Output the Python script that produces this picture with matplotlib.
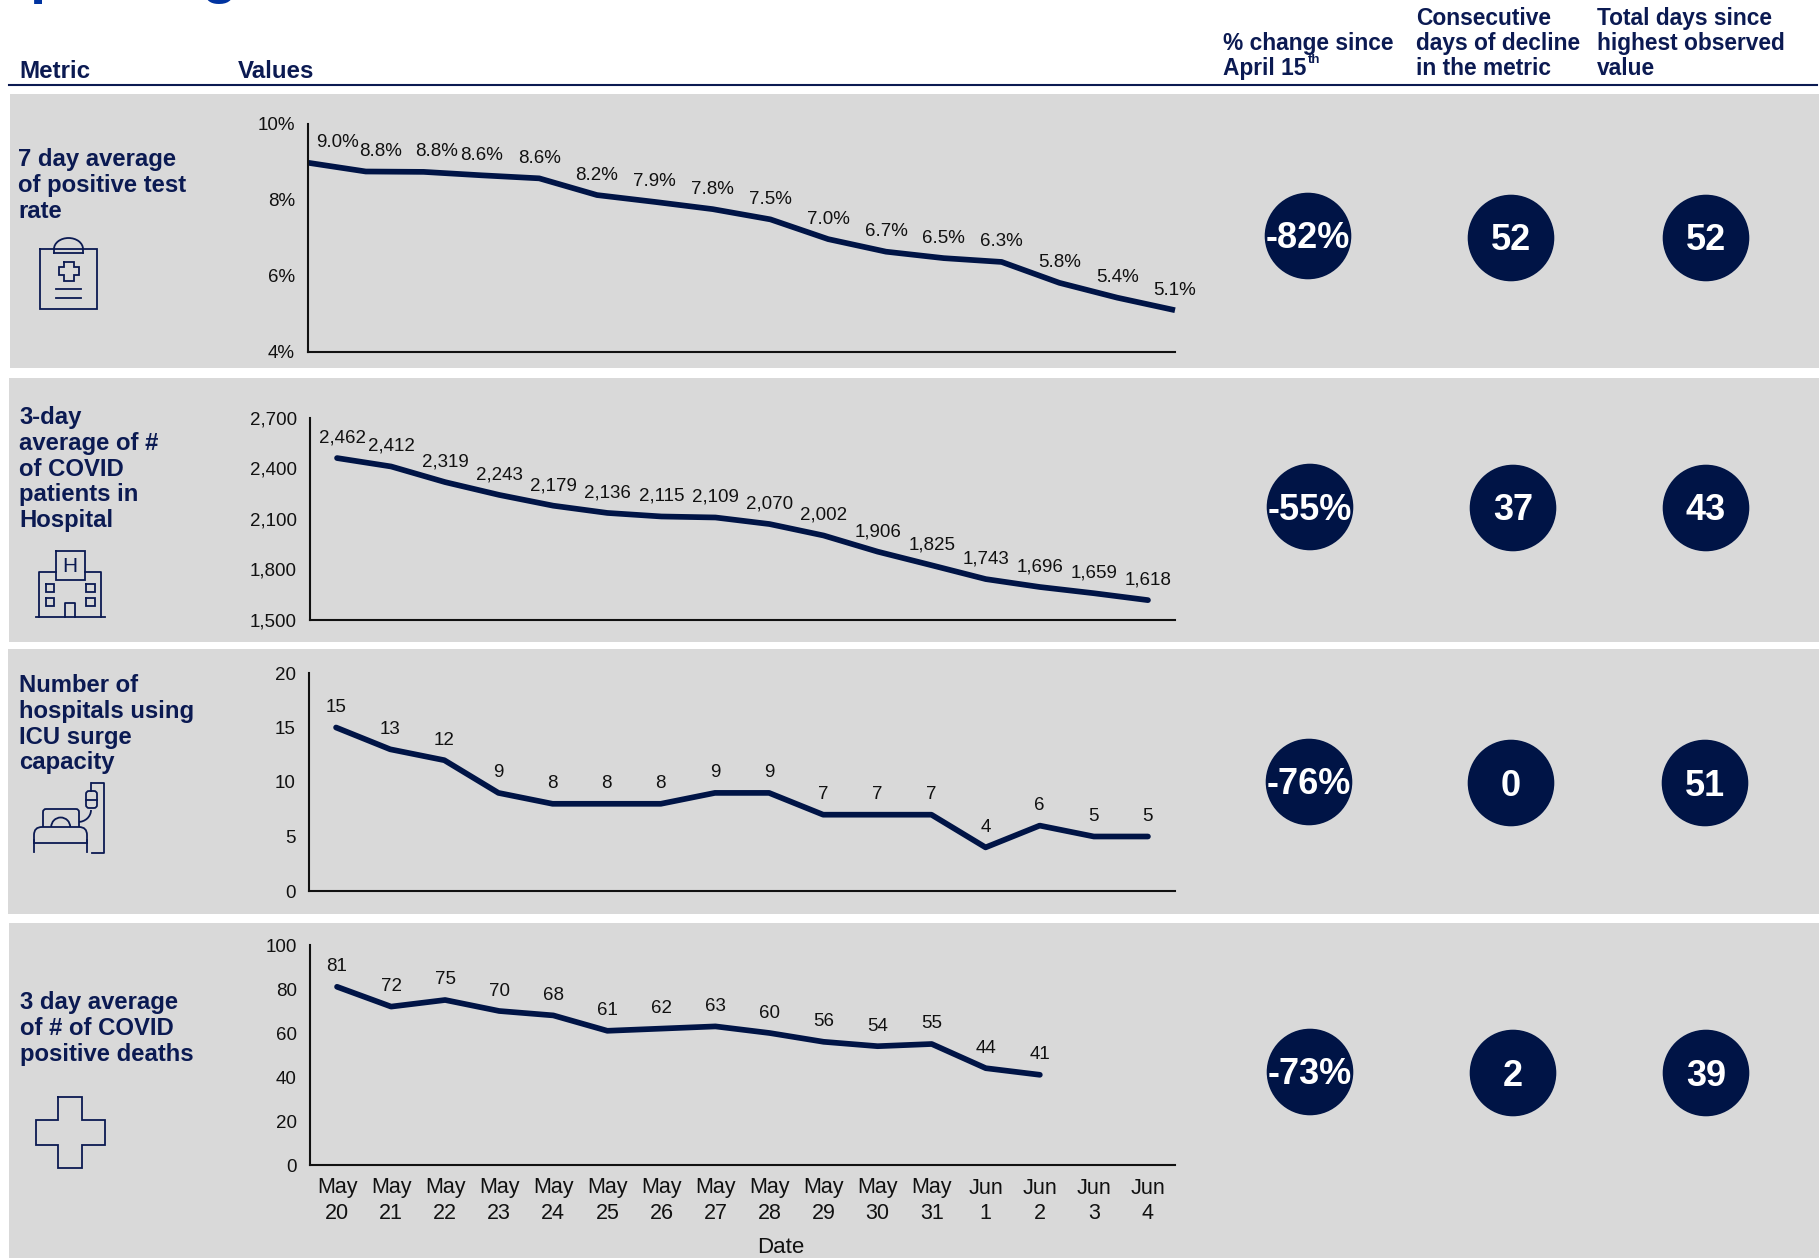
import matplotlib
matplotlib.use("Agg")
from matplotlib import pyplot as plt
from matplotlib.patches import Rectangle, Circle, FancyBboxPatch, Arc

plt.rcParams['font.family'] = ['Liberation Sans', 'DejaVu Sans']

W, H = 1819, 1258
NAVY = "#001446"
TXT = "#0b1a52"
GREY = "#d9d9d9"
DARK = "#111111"

dates = ["May\n20", "May\n21", "May\n22", "May\n23", "May\n24", "May\n25", "May\n26", "May\n27",
         "May\n28", "May\n29", "May\n30", "May\n31", "Jun\n1", "Jun\n2", "Jun\n3", "Jun\n4"]

# values
positive_rate = [8.98, 8.75, 8.74, 8.65, 8.57, 8.13, 7.95, 7.76, 7.49, 6.97, 6.64, 6.47, 6.37, 5.82, 5.43, 5.10]
positive_labels = ["9.0%", "8.8%", "8.8%", "8.6%", "8.6%", "8.2%", "7.9%", "7.8%", "7.5%", "7.0%", "6.7%",
                   "6.5%", "6.3%", "5.8%", "5.4%", "5.1%"]
hospital = [2462, 2412, 2319, 2243, 2179, 2136, 2115, 2109, 2070, 2002, 1906, 1825, 1743, 1696, 1659, 1618]
icu = [15, 13, 12, 9, 8, 8, 8, 9, 9, 7, 7, 7, 4, 6, 5, 5]
deaths = [81, 72, 75, 70, 68, 61, 62, 63, 60, 56, 54, 55, 44, 41]

pct_change = ["-82%", "-55%", "-76%", "-73%"]
decline_days = ["52", "37", "0", "2"]
days_since = ["52", "43", "51", "39"]

metric_lines = [["7 day average", "of positive test", "rate"],
                ["3-day", "average of #", "of COVID", "patients in", "Hospital"],
                ["Number of", "hospitals using", "ICU surge", "capacity"],
                ["3 day average", "of # of COVID", "positive deaths"]]


def fx(px):
    return px / W


def fy(py):
    return 1 - py / H


fig = plt.figure(figsize=(W / 100, H / 100), dpi=100, facecolor="white")

# pixel coords overlay for panels, icons, text
bg = fig.add_axes([0, 0, 1, 1])
bg.set_xlim(0, W)
bg.set_ylim(H, 0)
bg.axis("off")

# grey rows
for x0, y0, y1 in [(10, 94, 368), (9, 378, 642), (8, 649, 914), (9, 923, 1258)]:
    bg.add_patch(Rectangle((x0, y0), W - x0, y1 - y0, fc=GREY, ec="none"))
bg.add_patch(Rectangle((19, 641.5), 133, 1.5, fc="white", ec="none"))

# tails of the cut off title
bg.text(29, -8.5, "p", fontsize=42, fontweight="bold", color="#0033a0", va="baseline", clip_on=False)
bg.text(202, -8, "g", fontsize=42, fontweight="bold", color="#0033a0", va="baseline", clip_on=False)

# header
bg.plot([9, 1817], [85, 85], color=TXT, lw=1.5)
bg.text(19, 78.5, "Metric", fontsize=17.4, fontweight="bold", color=TXT)
bg.text(238, 78.5, "Values", fontsize=17.4, fontweight="bold", color=TXT)
bg.text(1223, 50, "% change since", fontsize=16.4, fontweight="bold", color=TXT)
bg.text(1223, 75, "April 15", fontsize=16.4, fontweight="bold", color=TXT)
bg.text(1308, 63, "th", fontsize=9.5, fontweight="bold", color=TXT)
for i, s in enumerate(["Consecutive", "days of decline", "in the metric"]):
    bg.text(1416, 25 + 25 * i, s, fontsize=16.4, fontweight="bold", color=TXT)
for i, s in enumerate(["Total days since", "highest observed", "value"]):
    bg.text(1597, 25 + 25 * i, s, fontsize=16.4, fontweight="bold", color=TXT)

# metric names
for lines, x0, y0 in zip(metric_lines, [18, 19, 19, 19.5], [166, 424, 692, 1009]):
    for i, s in enumerate(lines):
        bg.text(x0, y0 + i * 25.8, s, fontsize=17.2, fontweight="bold", color=TXT)

# circles
for col, cx_row, cy_row in [(pct_change, [1308, 1310, 1309, 1310], [236, 507, 782, 1072]),
                            (decline_days, [1511, 1513, 1511, 1513], [238, 508, 783, 1073]),
                            (days_since, [1706, 1706, 1705, 1706], [238, 508, 783, 1073])]:
    for s, cx, cy in zip(col, cx_row, cy_row):
        bg.add_patch(Circle((cx, cy), 43.3, fc=NAVY, ec="none"))
        bg.text(cx, cy + 3, s, fontsize=26, fontweight="bold", color="white", ha="center", va="center")

bg.text(781, 1247.5, "Date", fontsize=16, color=DARK, ha="center", va="center")


# icons
def box(x0, y0, x1, y1):
    bg.plot([x0, x1, x1, x0, x0], [y0, y0, y1, y1, y0], color=TXT, lw=1.3, solid_joinstyle="miter")


def cross(x0, x1, x2, x3, y0, y1, y2, y3):
    bg.plot([x1, x2, x2, x3, x3, x2, x2, x1, x1, x0, x0, x1, x1],
            [y0, y0, y1, y1, y2, y2, y3, y3, y2, y2, y1, y1, y0], color=TXT, lw=1.3, solid_joinstyle="miter")


# clipboard
box(40, 249, 96.5, 309)
bg.add_patch(Rectangle((54, 244), 29, 9, fc=GREY, ec="none", zorder=2))
bg.plot([54, 54, 83, 83], [253, 249, 249, 253], color=TXT, lw=1.3, zorder=3)
bg.plot([54, 83], [253, 253], color=TXT, lw=1.3, zorder=3)
bg.add_patch(Arc((68.5, 249), 29, 22, theta1=180, theta2=360, ec=TXT, lw=1.3, zorder=3))
cross(58.5, 63.5, 73.5, 78.5, 262, 267, 275, 281)
bg.plot([56, 81], [289, 289], color=TXT, lw=1.3)
bg.plot([56, 81], [298, 298], color=TXT, lw=1.3)

# hospital
bg.plot([36, 105], [617, 617], color=TXT, lw=1.3)
bg.plot([39, 39, 56], [617, 572, 572], color=TXT, lw=1.3)
bg.plot([85, 101, 101], [572, 572, 617], color=TXT, lw=1.3)
box(56, 551, 85, 580)
bg.text(70.3, 566, "H", fontsize=15, color=TXT, ha="center", va="center")
for wx in [45.7, 86]:
    for wy in [584, 598]:
        box(wx, wy, wx + 8.6, wy + 8)
bg.plot([65, 65, 75, 75], [617, 603, 603, 617], color=TXT, lw=1.3)

# bed
bg.plot([91.7, 104, 104, 92], [783, 783, 853, 853], color=TXT, lw=1.3)
bg.plot([91, 91], [783, 791], color=TXT, lw=1.3)
bg.add_patch(FancyBboxPatch((86, 791), 11, 17, boxstyle="round,pad=0,rounding_size=3", fc="none", ec=TXT, lw=1.3))
bg.plot([86, 97], [800, 800], color=TXT, lw=1.3)
bg.add_patch(Arc((78, 810), 26, 24, theta1=0, theta2=90, ec=TXT, lw=1.3))
bg.add_patch(FancyBboxPatch((43, 809), 36, 22, boxstyle="round,pad=0,rounding_size=3", fc=GREY, ec=TXT, lw=1.3, zorder=2))
bg.add_patch(Arc((60.7, 827), 19, 19, theta1=180, theta2=360, ec=TXT, lw=1.3, zorder=3))
bg.add_patch(FancyBboxPatch((34, 827), 53, 30, boxstyle="round,pad=0,rounding_size=8", fc=GREY, ec=TXT, lw=1.3, zorder=3))
bg.add_patch(Rectangle((30, 844), 60, 16, fc=GREY, ec="none", zorder=4))
bg.plot([34, 87], [843, 843], color=TXT, lw=1.3, zorder=5)
bg.plot([34, 34], [840, 852], color=TXT, lw=1.3, zorder=5)
bg.plot([87, 87], [840, 852], color=TXT, lw=1.3, zorder=5)

# plus
cross(36, 58, 82, 105, 1097, 1120, 1145, 1168)

# the four line charts
series = [positive_rate, hospital, icu, deaths]
labels = [positive_labels, [f"{v:,}" for v in hospital], [str(v) for v in icu], [str(v) for v in deaths]]
ylims = [(4, 10), (1500, 2700), (0, 20), (0, 100)]
yticks = [[4, 6, 8, 10], [1500, 1800, 2100, 2400, 2700], [0, 5, 10, 15, 20], [0, 20, 40, 60, 80, 100]]
ytick_fmt = ["{:d}%", "{:,d}", "{:d}", "{:d}"]
boxes = [(308, 124, 352), (310, 418, 620), (309, 673, 891), (310, 945, 1165)]
nudge = [{0: 29, 1: 15, 2: 13}, {0: 5}, {}, {}]

for i in range(4):
    left, top, bottom = boxes[i]
    ax = fig.add_axes([fx(left), fy(bottom), fx(1175 - left), (bottom - top) / H])
    ax.patch.set_alpha(0)
    xs = list(range(len(series[i])))
    ax.plot(xs, series[i], color=NAVY, lw=4.1, solid_capstyle="butt" if i == 0 else "round",
            solid_joinstyle="round", clip_on=False)
    if i == 0:
        ax.set_xlim(0, 15)
    else:
        ax.set_xlim(-0.5, 15.5)
    ax.set_ylim(*ylims[i])
    for x, y, s in zip(xs, series[i], labels[i]):
        ax.annotate(s, (x, y), xytext=(nudge[i].get(x, 0), 20), textcoords="offset pixels",
                    ha="center", va="center", fontsize=13.5, color=DARK)
    ax.set_yticks(yticks[i])
    ax.set_yticklabels([ytick_fmt[i].format(v) for v in yticks[i]])
    ax.tick_params(axis="y", length=0, pad=9.5, labelsize=13.5, labelcolor=DARK)
    if i == 3:
        ax.set_xticks(range(16))
        ax.set_xticklabels(dates, linespacing=1.3)
        ax.tick_params(axis="x", length=0, pad=9, labelsize=15.5, labelcolor=DARK)
    else:
        ax.set_xticks([])
    for side in ["top", "right"]:
        ax.spines[side].set_visible(False)
    for side in ["left", "bottom"]:
        ax.spines[side].set_linewidth(1.5)
        ax.spines[side].set_color(DARK)

fig.savefig("out.png", dpi=100)
